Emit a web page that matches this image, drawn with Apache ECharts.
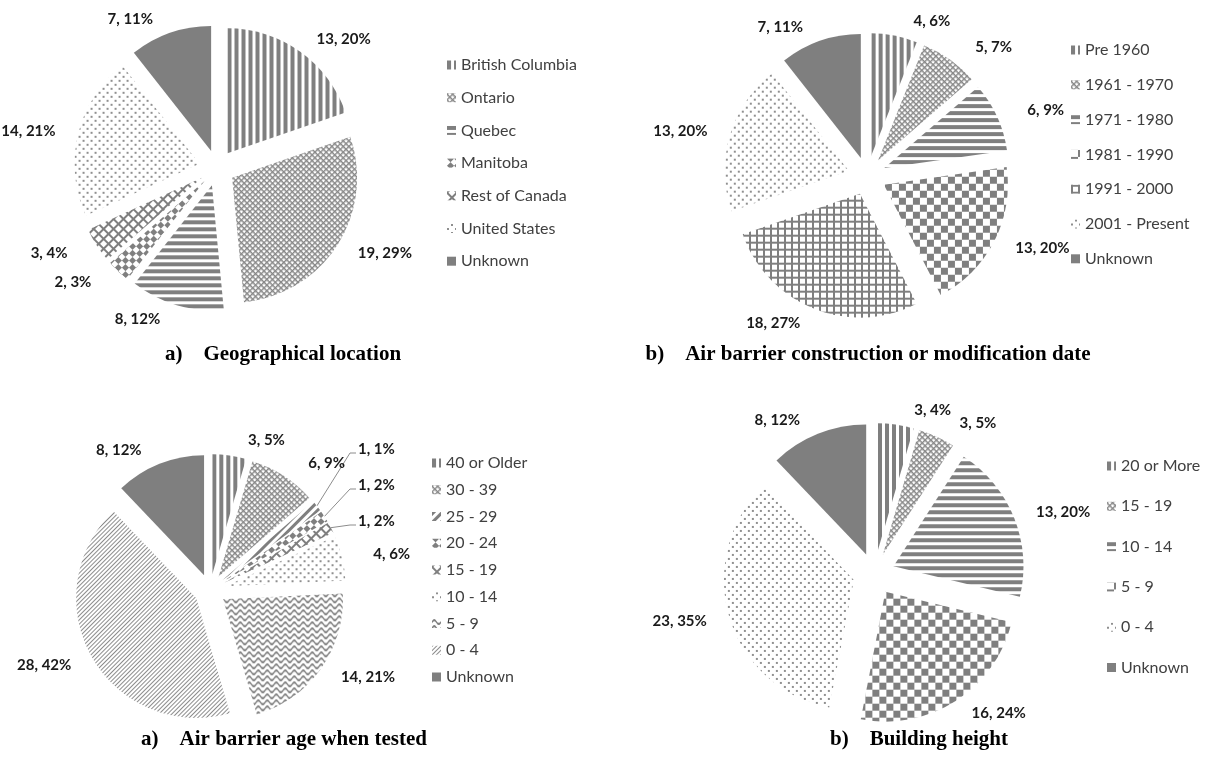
<!DOCTYPE html>
<html lang="en">
<head>
<meta charset="utf-8">
<title>Air barrier survey – sample composition</title>
<script src="https://cdn.jsdelivr.net/npm/echarts@6.0.0/dist/echarts.min.js"></script>
<style>
  html, body { margin: 0; padding: 0; background: #ffffff; }
  #page { position: relative; width: 1211px; height: 767px; overflow: hidden; background: #ffffff; }
  .layer { position: absolute; left: 0; top: 0; width: 1211px; height: 767px; }
</style>
</head>
<body>
<div id="page">
  <div id="geo" class="layer"></div>
  <div id="date" class="layer"></div>
  <div id="age" class="layer"></div>
  <div id="height" class="layer"></div>
</div>
<script>
// ---------- data ----------
const geoCategories = ['British Columbia', 'Ontario', 'Quebec', 'Manitoba', 'Rest of Canada', 'United States', 'Unknown'];
const geoCounts = [13, 19, 8, 2, 3, 14, 7];
const geoPercents = [20, 29, 12, 3, 4, 21, 11];

const dateCategories = ['Pre 1960', '1961 - 1970', '1971 - 1980', '1981 - 1990', '1991 - 2000', '2001 - Present', 'Unknown'];
const dateCounts = [4, 5, 6, 13, 18, 13, 7];
const datePercents = [6, 7, 9, 20, 27, 20, 11];

const ageCategories = ['40 or Older', '30 - 39', '25 - 29', '20 - 24', '15 - 19', '10 - 14', '5 - 9', '0 - 4', 'Unknown'];
const ageCounts = [3, 6, 1, 1, 1, 4, 14, 28, 8];
const agePercents = [5, 9, 1, 2, 2, 6, 21, 42, 12];

const heightCategories = ['20 or More', '15 - 19', '10 - 14', '5 - 9', '0 - 4', 'Unknown'];
const heightCounts = [3, 3, 13, 16, 23, 8];
const heightPercents = [4, 5, 20, 24, 35, 12];

// ---------- fill patterns (grey on white, monochrome print style) ----------
const GRAY = '#7f7f7f';
function pat(o) {
  return Object.assign({
    symbol: 'rect', symbolSize: 1, symbolKeepAspect: false,
    color: GRAY, rotation: 0, maxTileWidth: 512, maxTileHeight: 512
  }, o);
}
const LSHAPE4 = 'path://M0 0H4V1.4H1.4V4H0Z';
const LSHAPE7 = 'path://M0 0H7V2H2V7H0Z';
const WAVE = 'path://M0 2.5Q2 0 4 2.5Q6 5 8 2.5L8 4Q6 6.5 4 4Q2 1.5 0 4Z';
const PATTERN = {
  vertical:       pat({ dashArrayX: [4, 3], dashArrayY: [4, 0] }),
  horizontal:     pat({ dashArrayX: [4, 0], dashArrayY: [4, 3] }),
  smallDiamond:   pat({ symbol: LSHAPE4, dashArrayX: [4, 0], dashArrayY: [4, 0], rotation: Math.PI / 4, color: '#888888' }),
  checker:        pat({ dashArrayX: [[7, 7], [0, 7, 7, 0]], dashArrayY: [7, 0] }),
  diamondChecker: pat({ dashArrayX: [[5, 5], [0, 5, 5, 0]], dashArrayY: [5, 0], rotation: Math.PI / 4 }),
  grid:           pat({ symbol: LSHAPE7, dashArrayX: [7, 0], dashArrayY: [7, 0] }),
  diagGrid:       pat({ symbol: LSHAPE7, dashArrayX: [7, 0], dashArrayY: [7, 0], rotation: Math.PI / 4 }),
  dots:           pat({ dashArrayX: [[2, 6], [0, 4, 2, 2]], dashArrayY: [2, 2], color: '#8f8f8f' }),
  wideDiag:       pat({ dashArrayX: [3, 3], dashArrayY: [4, 0], rotation: Math.PI / 4 }),
  fineDiag:       pat({ dashArrayX: [1, 2], dashArrayY: [4, 0], rotation: Math.PI / 4, color: '#8c8c8c' }),
  wave:           pat({ symbol: WAVE, dashArrayX: [9, 0], dashArrayY: [6, 0] }),
  solid:          null
};

const LABEL_FONT = 'Lato';
const CAPTION_FONT = '"Liberation Serif", "Times New Roman", serif';
const LABEL_STYLE = { fontFamily: LABEL_FONT, fontWeight: 'bold', fontSize: 15, color: '#1a1a1a' };

function buildPanel(domId, cfg) {
  const chart = echarts.init(document.getElementById(domId), null, { renderer: 'canvas' });
  const total = cfg.counts.reduce((s, v) => s + v, 0);
  let run = 0;
  const midAngles = cfg.counts.map(v => {
    const a = (run + v / 2) / total * Math.PI * 2;
    run += v;
    return a;
  });
  const cx = cfg.center[0], cy = cfg.center[1];
  const rim = cfg.radius + cfg.explode;      // arc of an exploded slice
  const reach = rim + 10;                     // where outside labels start
  const leaders = cfg.leaders || [];
  const labelText = i => cfg.counts[i] + ', ' + cfg.percents[i] + '%';

  const data = cfg.categories.map((name, i) => {
    const p = PATTERN[cfg.patterns[i]];
    const item = {
      name: name,
      value: cfg.counts[i],
      selected: true,
      itemStyle: p ? { color: '#ffffff', decal: p } : { color: GRAY }
    };
    if (leaders.indexOf(i) >= 0) item.label = { show: false };
    return item;
  });

  // call-outs with leader lines for the thinnest slices
  const graphics = [];
  leaders.forEach((i, k) => {
    const sx = Math.sin(midAngles[i]), sy = -Math.cos(midAngles[i]);
    const ax = cx + rim * sx, ay = cy + rim * sy;
    const lx = cx + rim + 12, ly = cy - 141 + k * 36;
    graphics.push({
      type: 'polyline',
      shape: { points: [[ax, ay], [lx - 8, ly + 4], [lx - 2, ly + 4]] },
      style: { stroke: '#8c8c8c', lineWidth: 1, fill: null }
    });
    graphics.push({
      type: 'text', x: lx, y: ly,
      style: {
        text: labelText(i), fontFamily: LABEL_FONT, fontWeight: 'bold', fontSize: 15,
        fill: '#1a1a1a', align: 'left', verticalAlign: 'middle'
      }
    });
  });
  graphics.push({
    type: 'text',
    x: cfg.caption.x,
    y: cfg.caption.y,
    style: {
      text: cfg.caption.text,
      fontFamily: CAPTION_FONT,
      fontSize: 21,
      fontWeight: 'bold',
      fill: '#000000',
      align: 'center',
      verticalAlign: 'middle'
    }
  });

  chart.setOption({
    animation: false,
    legend: {
      orient: 'vertical',
      left: cfg.legend.left,
      top: cfg.legend.top,
      padding: 0,
      itemGap: cfg.legend.gap,
      itemWidth: 9,
      itemHeight: 9,
      icon: 'rect',
      selectedMode: false,
      textStyle: { fontFamily: LABEL_FONT, fontSize: 16, color: '#404040', lineHeight: 18 },
      data: cfg.categories
    },
    graphic: graphics,
    series: [{
      type: 'pie',
      center: [cx, cy],
      radius: [0, cfg.radius],
      startAngle: 90,
      clockwise: true,
      selectedMode: 'multiple',
      selectedOffset: cfg.explode,
      avoidLabelOverlap: false,
      emphasis: { scale: false },
      itemStyle: { borderWidth: 0 },
      label: Object.assign({
        show: true,
        position: 'outside',
        formatter: p => labelText(p.dataIndex)
      }, LABEL_STYLE),
      labelLine: { show: false },
      labelLayout: function (p) {
        const i = p.dataIndex;
        const w = p.labelRect.width, h = p.labelRect.height;
        // outside-end placement: label box sits just beyond the arc on the slice bisector
        const sx = Math.sin(midAngles[i]), sy = -Math.cos(midAngles[i]);
        const kx = Math.max(-1, Math.min(1, sx * 3));
        const ky = Math.max(-1, Math.min(1, sy * 2));
        return {
          x: cx + reach * sx + kx * w / 2,
          y: cy + reach * sy + ky * h / 2,
          align: 'center',
          verticalAlign: 'middle'
        };
      },
      data: data
    }]
  });
  return chart;
}

buildPanel('geo', {
  categories: geoCategories, counts: geoCounts, percents: geoPercents,
  patterns: ['vertical', 'smallDiamond', 'horizontal', 'diamondChecker', 'diagGrid', 'dots', 'solid'],
  center: [217, 168], radius: 125, explode: 18,
  legend: { left: 447, top: 56, gap: 14.7 },
  caption: { x: 283, y: 355, text: 'a)    Geographical location' }
});

buildPanel('date', {
  categories: dateCategories, counts: dateCounts, percents: datePercents,
  patterns: ['vertical', 'smallDiamond', 'horizontal', 'checker', 'grid', 'dots', 'solid'],
  center: [867, 176], radius: 124, explode: 19,
  legend: { left: 1071, top: 41, gap: 16.8 },
  caption: { x: 868, y: 355, text: 'b)    Air barrier construction or modification date' }
});

buildPanel('age', {
  categories: ageCategories, counts: ageCounts, percents: agePercents,
  patterns: ['vertical', 'smallDiamond', 'wideDiag', 'diamondChecker', 'diagGrid', 'dots', 'wave', 'fineDiag', 'solid'],
  center: [210, 590], radius: 120, explode: 16,
  leaders: [2, 3, 4],
  legend: { left: 432, top: 454, gap: 8.75 },
  caption: { x: 284, y: 740, text: 'a)    Air barrier age when tested' }
});

buildPanel('height', {
  categories: heightCategories, counts: heightCounts, percents: heightPercents,
  patterns: ['vertical', 'smallDiamond', 'horizontal', 'checker', 'dots', 'solid'],
  center: [874, 574], radius: 130, explode: 21,
  legend: { left: 1107, top: 457, gap: 22.3 },
  caption: { x: 919, y: 740, text: 'b)    Building height' }
});
</script>
</body>
</html>
